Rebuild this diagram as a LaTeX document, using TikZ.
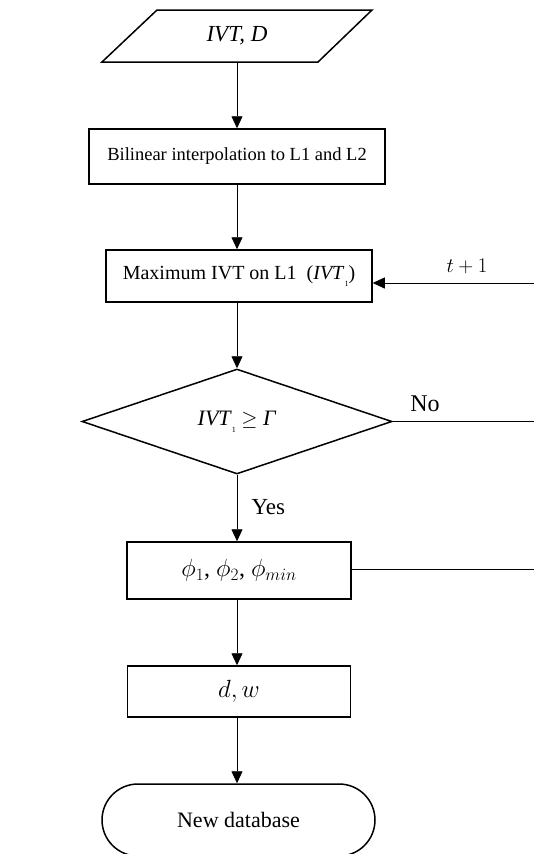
\documentclass[tikz,border=0pt]{standalone}
\usepackage{fontspec}
\setmainfont{Liberation Serif}
\usetikzlibrary{shapes.geometric,shapes.misc,arrows.meta}
\newcommand{\fsz}[1]{\fontsize{#1}{#1}\selectfont}
\newcommand{\subone}{\raisebox{-0.7ex}{\fontsize{8}{8}\selectfont 1}}
\begin{document}
\begin{tikzpicture}[x=1pt,y=-1pt,
  font=\fsz{17},
  boxnode/.style={draw, line width=1.5pt, rectangle, inner sep=0pt, align=center},
  conn/.style={line width=0.8pt, -{Triangle[width=11pt,length=12pt]}},
  plainline/.style={line width=0.8pt}]
\useasboundingbox (0,0) rectangle (534,854);
\fill[white] (0,0) rectangle (534,854);
% input parallelogram
\node[font=\fsz{23}] (in) at (237,36) {\itshape IVT, D};
\draw[line width=1.5pt] (157,10) -- (372,10) -- (318,62) -- (102,62) -- cycle;
\coordinate (inb) at (237,62);
% boxes
\node[boxnode, font=\fsz{18.5}, minimum width=296pt, minimum height=55pt] (b2) at (237,156.5) {Bilinear interpolation to L1 and L2};
\node[boxnode, font=\fsz{20}, minimum width=266pt, minimum height=52pt] (b3) at (239,276) {Maximum IVT on L1~~(\textit{IVT}\subone)};
\node[diamond, draw, font=\fsz{22}, line width=1.5pt, inner sep=0pt, shape aspect=3, minimum width=310pt, minimum height=105pt] (dec) at (237,421.5) {\textit{IVT}\subone{} $\geq$ \textit{Γ}};
\node[boxnode, font=\fsz{24}, minimum width=224pt, minimum height=57pt] (phi) at (239,570.5) {$\phi_1$, $\phi_2$, $\phi_{min}$};
\node[boxnode, font=\fsz{25}, minimum width=223pt, minimum height=51pt] (dw) at (239,691.5) {$d, w$};
\node[rounded rectangle, draw, font=\fsz{22}, line width=1.5pt, inner sep=0pt, minimum width=273pt, minimum height=72pt] (term) at (238.5,820) {New database};
% connectors
\draw[conn] (inb) -- (inb |- b2.north);
\draw[conn] (b2.south) -- (b2.south |- b3.north);
\draw[conn] (b3.south -| dec.north) -- (dec.north);
\draw[conn] (dec.south) -- (dec.south |- phi.north);
\draw[conn] (phi.south -| dec.south) -- (dec.south |- dw.north);
\draw[conn] (dw.south -| dec.south) -- (dec.south |- term.north);
\node[anchor=west, font=\fsz{23}] (yes) at (248,507) {Yes};
\coordinate (r1) at (534,283);
\draw[conn] (r1) -- (r1 -| b3.east);
\node[font=\fsz{22}] (tplus) at (467,266) {$t+1$};
\coordinate (r2) at (534,421.5);
\draw[plainline] (dec.east) -- (r2);
\node[font=\fsz{24}] (no) at (425,404) {No};
\coordinate (r3) at (534,569);
\draw[plainline] (r3 -| phi.east) -- (r3);
\end{tikzpicture}
\end{document}
